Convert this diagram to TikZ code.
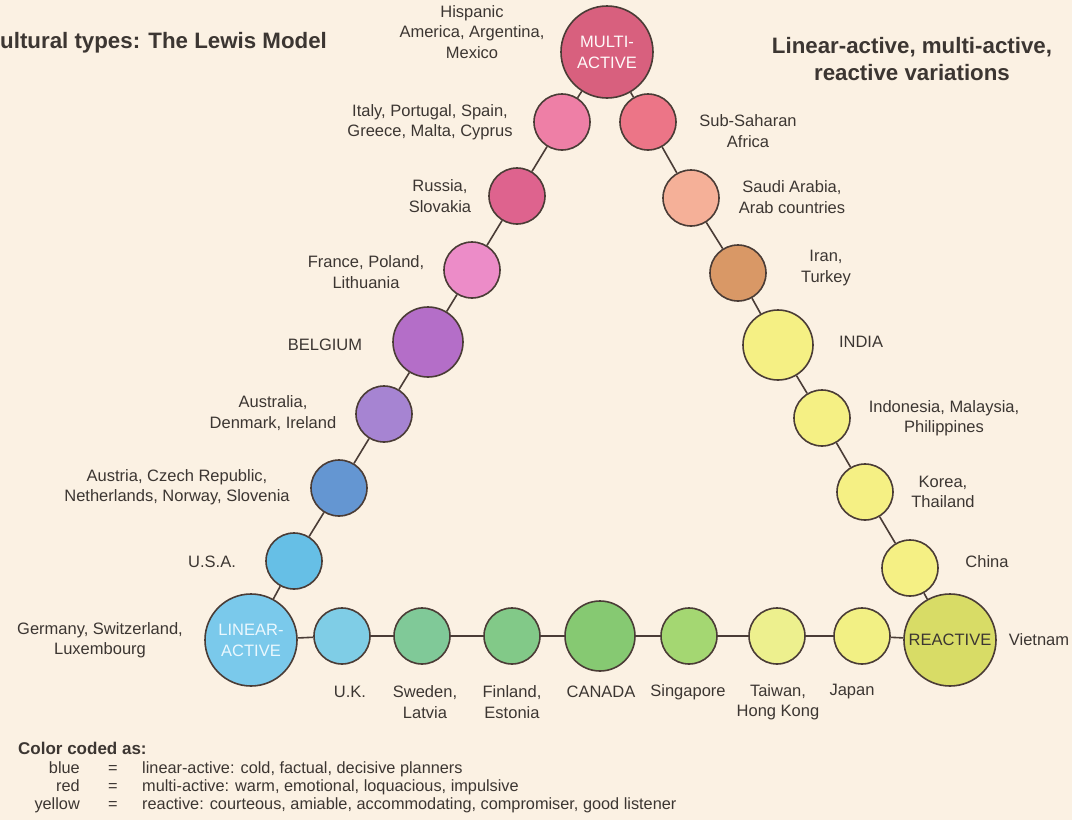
\documentclass[tikz,border=0pt]{standalone}
\usepackage{fontspec}
\setmainfont{Liberation Sans}
\definecolor{bg}{HTML}{FBF1E3}
\definecolor{edge}{HTML}{4A3C36}
\definecolor{txt}{HTML}{3C3632}
\definecolor{cMA}{HTML}{D8607E}
\definecolor{cLone}{HTML}{EE7FA6}
\definecolor{cLtwo}{HTML}{DE638E}
\definecolor{cLthree}{HTML}{EC8CC8}
\definecolor{cLfour}{HTML}{B46EC8}
\definecolor{cLfive}{HTML}{A684D2}
\definecolor{cLsix}{HTML}{6496D2}
\definecolor{cLseven}{HTML}{66BFE6}
\definecolor{cLA}{HTML}{7AC9EB}
\definecolor{cRone}{HTML}{EC7587}
\definecolor{cRtwo}{HTML}{F5B098}
\definecolor{cRthree}{HTML}{D99866}
\definecolor{cYel}{HTML}{F5F084}
\definecolor{cRE}{HTML}{D8DC66}
\definecolor{cBone}{HTML}{7FCDE6}
\definecolor{cBtwo}{HTML}{80C998}
\definecolor{cBthree}{HTML}{82C988}
\definecolor{cBfour}{HTML}{86C972}
\definecolor{cBfive}{HTML}{A4D772}
\definecolor{cBsix}{HTML}{EDF08E}
\definecolor{cBseven}{HTML}{F2F084}
\begin{document}
\begin{tikzpicture}[x=1pt,y=-1pt,
  bub/.style={circle, draw=edge, line width=1.6pt, inner sep=0pt, minimum size=56pt},
  bigbub/.style={bub, minimum size=92pt, align=center, font=\fontsize{16.5}{21}\selectfont},
  midbub/.style={bub, minimum size=70pt},
  link/.style={draw=edge, line width=1.6pt},
  lbl/.style={font=\fontsize{16.5}{20.5}\selectfont, text=txt, align=center, inner sep=0pt},
  ttl/.style={font=\fontsize{22.3}{27.5}\selectfont\bfseries, text=txt, align=center, inner sep=0pt},
  leg/.style={font=\fontsize{16.3}{18}\selectfont, text=txt, inner sep=0pt}]
\useasboundingbox (0,0) rectangle (1072,820);
\fill[bg] (0,0) rectangle (1072,820);

% titles
\node[ttl, anchor=base west] (t1) at (0,48) {ultural types: The Lewis Model};
\node[ttl] (t2) at (912,59) {Linear-active, multi-active,\\reactive variations};

% circles
\node[bigbub, fill=cMA, text=white!92!pink] (ma) at (607,52) {MULTI-\\ACTIVE};
\node[bub, fill=cLone] (l1) at (562,122) {};
\node[bub, fill=cLtwo] (l2) at (517,196) {};
\node[bub, fill=cLthree] (l3) at (472,270) {};
\node[midbub, fill=cLfour] (l4) at (428,342) {};
\node[bub, fill=cLfive] (l5) at (384,414) {};
\node[bub, fill=cLsix] (l6) at (339,488) {};
\node[bub, fill=cLseven] (l7) at (294,561) {};
\node[bigbub, fill=cLA, text=white!92!cyan] (la) at (251,640) {LINEAR-\\ACTIVE};
\node[bub, fill=cRone] (r1) at (648,122) {};
\node[bub, fill=cRtwo] (r2) at (691,198) {};
\node[bub, fill=cRthree] (r3) at (738,273) {};
\node[midbub, fill=cYel] (r4) at (778,345) {};
\node[bub, fill=cYel] (r5) at (822,418) {};
\node[bub, fill=cYel] (r6) at (865,492) {};
\node[bub, fill=cYel] (r7) at (910,568) {};
\node[bigbub, fill=cRE, text=txt] (re) at (950,640) {REACTIVE};
\node[bub, fill=cBone] (b1) at (342,636) {};
\node[bub, fill=cBtwo] (b2) at (422,636) {};
\node[bub, fill=cBthree] (b3) at (512,636) {};
\node[midbub, fill=cBfour] (b4) at (600,636) {};
\node[bub, fill=cBfive] (b5) at (689,636) {};
\node[bub, fill=cBsix] (b6) at (777,636) {};
\node[bub, fill=cBseven] (b7) at (862,636) {};

% connectors
\draw[link] (la) -- (l7);
\draw[link] (l7) -- (l6);
\draw[link] (l6) -- (l5);
\draw[link] (l5) -- (l4);
\draw[link] (l4) -- (l3);
\draw[link] (l3) -- (l2);
\draw[link] (l2) -- (l1);
\draw[link] (l1) -- (ma);
\draw[link] (ma) -- (r1);
\draw[link] (r1) -- (r2);
\draw[link] (r2) -- (r3);
\draw[link] (r3) -- (r4);
\draw[link] (r4) -- (r5);
\draw[link] (r5) -- (r6);
\draw[link] (r6) -- (r7);
\draw[link] (r7) -- (re);
\draw[link] (la) -- (b1);
\draw[link] (b1) -- (b2);
\draw[link] (b2) -- (b3);
\draw[link] (b3) -- (b4);
\draw[link] (b4) -- (b5);
\draw[link] (b5) -- (b6);
\draw[link] (b6) -- (b7);
\draw[link] (b7) -- (re);

% labels
\node[lbl] (n0) at (472,32) {Hispanic\\America, Argentina,\\Mexico};
\node[lbl] (n1) at (430,122) {Italy, Portugal, Spain,\\Greece, Malta, Cyprus};
\node[lbl] (n2) at (440,196) {Russia,\\Slovakia};
\node[lbl] (n3) at (366,272) {France, Poland,\\Lithuania};
\node[lbl] (n4) at (325,345) {BELGIUM};
\node[lbl] (n5) at (273,413) {Australia,\\Denmark, Ireland};
\node[lbl] (n6) at (177,487) {Austria, Czech Republic,\\Netherlands, Norway, Slovenia};
\node[lbl] (n7) at (212,562) {U.S.A.};
\node[lbl] (n8) at (100,640) {Germany, Switzerland,\\Luxembourg};
\node[lbl] (m1) at (748,131) {Sub-Saharan\\Africa};
\node[lbl] (m2) at (792,197) {Saudi Arabia,\\Arab countries};
\node[lbl] (m3) at (826,268) {Iran,\\Turkey};
\node[lbl] (m4) at (861,342) {INDIA};
\node[lbl] (m5) at (944,418) {Indonesia, Malaysia,\\Philippines};
\node[lbl] (m6) at (943,492) {Korea,\\Thailand};
\node[lbl] (m7) at (987,562) {China};
\node[lbl] (m8) at (1039,640) {Vietnam};
\node[lbl] (k1) at (350,692) {U.K.};
\node[lbl] (k2) at (425,702) {Sweden,\\Latvia};
\node[lbl] (k3) at (512,702) {Finland,\\Estonia};
\node[lbl] (k4) at (601,692) {CANADA};
\node[lbl] (k5) at (688,692) {Singapore};
\node[lbl] (k6) at (778,702) {Taiwan,\\Hong Kong};
\node[lbl] (k7) at (852,692) {Japan};

% legend
\node[leg, font=\fontsize{17}{18}\selectfont\bfseries, anchor=base west] (lg) at (18,754) {Color coded as:};
\node[leg, anchor=base east] (lb1) at (80,773) {blue};
\node[leg, anchor=base] (le1) at (113,773) {=};
\node[leg, anchor=base west] (ld1) at (142,773) {linear-active: cold, factual, decisive planners};
\node[leg, anchor=base east] (lb2) at (80,791) {red};
\node[leg, anchor=base] (le2) at (113,791) {=};
\node[leg, anchor=base west] (ld2) at (142,791) {multi-active: warm, emotional, loquacious, impulsive};
\node[leg, anchor=base east] (lb3) at (80,809) {yellow};
\node[leg, anchor=base] (le3) at (113,809) {=};
\node[leg, anchor=base west] (ld3) at (142,809) {reactive: courteous, amiable, accommodating, compromiser, good listener};
\end{tikzpicture}
\end{document}
